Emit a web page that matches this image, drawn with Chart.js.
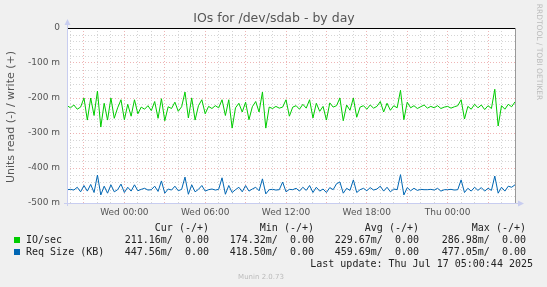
<!DOCTYPE html>
<html>
<head>
<meta charset="utf-8">
<script src="https://cdn.jsdelivr.net/npm/chart.js@4/dist/chart.umd.min.js"></script>
<style>
  html, body { margin: 0; padding: 0; background: #f0f0f0; }
  canvas { display: block; }
</style>
</head>
<body>
<canvas id="grafico" width="547" height="287"></canvas>
<script>
// time axis: hours relative to Wed 00:00, one sample every 15 min
var startHour = -4.25;
var stepHours = 0.25;

// IO/sec (read, shown negative) in milli units
var ioPerSec = [
  -222, -228, -220, -232, -226, -200, -263, -200, -250, -180,
  -283, -215, -263, -200, -258, -228, -205, -262, -218, -252,
  -205, -245, -226, -232, -222, -236, -210, -258, -202, -265,
  -225, -230, -212, -238, -225, -183, -257, -200, -263, -222,
  -205, -245, -224, -230, -222, -228, -205, -250, -205, -286,
  -228, -215, -240, -212, -262, -225, -210, -240, -183, -286,
  -226, -230, -224, -229, -226, -205, -252, -226, -222, -232,
  -218, -229, -205, -257, -215, -238, -224, -263, -214, -226,
  -222, -200, -265, -220, -235, -200, -255, -226, -222, -232,
  -220, -229, -224, -210, -240, -215, -235, -222, -228, -178,
  -262, -212, -228, -222, -230, -225, -220, -229, -224, -228,
  -222, -230, -226, -224, -229, -225, -222, -205, -260, -224,
  -232, -218, -228, -220, -233, -222, -230, -175, -280, -222,
  -232, -218, -225, -211
];

// Req Size (KB) (read, shown negative) in milli units
var reqSizeKB = [
  -462, -461, -463, -455, -468, -450, -466, -447, -470, -420,
  -477, -452, -472, -448, -468, -462, -446, -470, -455, -466,
  -448, -465, -461, -458, -463, -462, -452, -467, -437, -472,
  -460, -463, -452, -465, -461, -426, -475, -448, -468, -461,
  -450, -466, -462, -460, -463, -461, -428, -475, -450, -470,
  -462, -455, -468, -450, -466, -460, -455, -465, -431, -474,
  -462, -461, -463, -462, -440, -468, -461, -462, -458, -466,
  -455, -464, -450, -470, -455, -466, -460, -470, -456, -462,
  -445, -440, -472, -458, -464, -434, -470, -462, -458, -465,
  -456, -463, -460, -452, -466, -455, -468, -460, -462, -419,
  -477, -456, -465, -458, -464, -461, -462, -462, -461, -463,
  -458, -466, -462, -462, -461, -463, -462, -434, -470, -458,
  -466, -455, -464, -456, -466, -458, -464, -423, -472, -455,
  -466, -452, -455, -448
];

var tickHours = [0, 6, 12, 18, 24];
var tickLabels = ['Wed 00:00', 'Wed 06:00', 'Wed 12:00', 'Wed 18:00', 'Thu 00:00'];

var legendNames = ['IO/sec', 'Req Size (KB)'];
var legendColors = ['#00cc00', '#0066b3'];
var legendHeaders = ['Cur (-/+)', 'Min (-/+)', 'Avg (-/+)', 'Max (-/+)'];
var legendValues = [
  ['211.16m/  0.00', '174.32m/  0.00', '229.67m/  0.00', '286.98m/  0.00'],
  ['447.56m/  0.00', '418.50m/  0.00', '459.69m/  0.00', '477.05m/  0.00']
];

function montaPontos(valores) {
  var pontos = [];
  for (var i = 0; i < valores.length; i++) {
    pontos.push({ x: startHour + i * stepHours, y: valores[i] });
  }
  return pontos;
}

var MAJOR = 'rgba(225, 120, 120, 0.55)';
var MINOR = 'rgba(185, 185, 185, 0.6)';

var muninPlugin = {
  id: 'munin',
  beforeDraw: function (chart) {
    var ctx = chart.ctx;
    var a = chart.chartArea;
    ctx.save();
    ctx.fillStyle = '#f0f0f0';
    ctx.fillRect(0, 0, chart.width, chart.height);
    ctx.fillStyle = '#ffffff';
    ctx.fillRect(a.left, a.top, a.right - a.left, a.bottom - a.top);
    ctx.restore();
  },
  afterDraw: function (chart) {
    var ctx = chart.ctx;
    var a = chart.chartArea;
    var y = chart.scales.y;
    ctx.save();

    // linha do zero (topo) e borda direita
    ctx.strokeStyle = '#000000';
    ctx.lineWidth = 1;
    var y0 = Math.round(y.getPixelForValue(0)) + 0.5;
    ctx.beginPath();
    ctx.moveTo(a.left, y0);
    ctx.lineTo(a.right, y0);
    ctx.stroke();
    ctx.strokeStyle = '#999999';
    ctx.beginPath();
    ctx.moveTo(a.right + 0.5, a.top);
    ctx.lineTo(a.right + 0.5, a.bottom);
    ctx.stroke();

    // eixos com setas
    ctx.strokeStyle = '#c8cdf0';
    ctx.fillStyle = '#c8cdf0';
    ctx.beginPath();
    ctx.moveTo(a.left + 0.5, a.bottom + 3);
    ctx.lineTo(a.left + 0.5, a.top - 4);
    ctx.moveTo(a.left - 3, a.bottom + 0.5);
    ctx.lineTo(a.right + 4, a.bottom + 0.5);
    ctx.stroke();
    ctx.beginPath();
    ctx.moveTo(a.left - 2.5, a.top - 3);
    ctx.lineTo(a.left + 3.5, a.top - 3);
    ctx.lineTo(a.left + 0.5, a.top - 9);
    ctx.closePath();
    ctx.fill();
    ctx.beginPath();
    ctx.moveTo(a.right + 3, a.bottom - 2.5);
    ctx.lineTo(a.right + 3, a.bottom + 3.5);
    ctx.lineTo(a.right + 9, a.bottom + 0.5);
    ctx.closePath();
    ctx.fill();

    // titulo
    ctx.fillStyle = '#555555';
    ctx.font = '12.5px "DejaVu Sans"';
    ctx.textAlign = 'center';
    ctx.textBaseline = 'middle';
    ctx.fillText('IOs for /dev/sdab - by day', 274, 19);

    // titulo do eixo vertical
    ctx.save();
    ctx.translate(11, 117);
    ctx.rotate(-Math.PI / 2);
    ctx.font = '11px "DejaVu Sans"';
    ctx.fillText('Units read (-) / write (+)', 0, 0);
    ctx.restore();

    // marca do rrdtool
    ctx.save();
    ctx.translate(539, 52);
    ctx.rotate(Math.PI / 2);
    ctx.fillStyle = '#bbbbbb';
    ctx.font = '7.5px "DejaVu Sans"';
    ctx.fillText('RRDTOOL / TOBI OETIKER', 0, 0);
    ctx.restore();

    // legenda
    ctx.font = '10px "DejaVu Sans Mono"';
    ctx.fillStyle = '#222222';
    ctx.textAlign = 'right';
    var colRight = [209, 314, 419, 526];
    for (var c = 0; c < legendHeaders.length; c++) {
      ctx.fillText(legendHeaders[c], colRight[c], 228);
    }
    for (var r = 0; r < legendNames.length; r++) {
      var ly = 240 + r * 12;
      ctx.fillStyle = legendColors[r];
      ctx.fillRect(14, ly - 3, 6, 6);
      ctx.fillStyle = '#222222';
      ctx.textAlign = 'left';
      ctx.fillText(legendNames[r], 26, ly);
      ctx.textAlign = 'right';
      for (var k = 0; k < legendValues[r].length; k++) {
        ctx.fillText(legendValues[r][k], colRight[k], ly);
      }
    }
    ctx.fillText('Last update: Thu Jul 17 05:00:44 2025', 533, 264);

    ctx.fillStyle = '#bbbbbb';
    ctx.font = '7px "DejaVu Sans"';
    ctx.textAlign = 'center';
    ctx.fillText('Munin 2.0.73', 261, 277);
    ctx.restore();
  }
};

var ctx = document.getElementById('grafico').getContext('2d');
var meuGrafico = new Chart(ctx, {
  type: 'line',
  data: {
    datasets: [{
      label: legendNames[0],
      data: montaPontos(ioPerSec),
      borderColor: legendColors[0],
      borderWidth: 1,
      pointRadius: 0,
      tension: 0,
      fill: false
    }, {
      label: legendNames[1],
      data: montaPontos(reqSizeKB),
      borderColor: legendColors[1],
      borderWidth: 1,
      pointRadius: 0,
      tension: 0,
      fill: false
    }]
  },
  options: {
    responsive: false,
    animation: false,
    devicePixelRatio: 1,
    layout: { padding: { top: 28, right: 32, left: 0, bottom: 0 } },
    plugins: {
      legend: { display: false },
      title: { display: false },
      tooltip: { enabled: false }
    },
    scales: {
      x: {
        type: 'linear',
        min: -4.26,
        max: 29,
        afterFit: function (scale) { scale.height = 84; },
        afterBuildTicks: function (scale) {
          var t = [];
          for (var h = -4; h <= 28; h++) t.push({ value: h });
          scale.ticks = t;
        },
        border: { display: false, dash: [1, 2] },
        grid: {
          drawTicks: false,
          color: function (c) {
            var v = c.tick ? c.tick.value : 0;
            return ((v % 3) + 3) % 3 === 0 ? MAJOR : MINOR;
          }
        },
        ticks: {
          autoSkip: false,
          maxRotation: 0,
          padding: 4,
          color: '#555555',
          font: { family: 'DejaVu Sans', size: 9 },
          callback: function (value) {
            var idx = tickHours.indexOf(value);
            return idx >= 0 ? tickLabels[idx] : '';
          }
        }
      },
      y: {
        min: -500,
        max: 0,
        afterFit: function (scale) { scale.width = 67; },
        border: { display: false, dash: [1, 2] },
        grid: {
          drawTicks: false,
          color: function (c) {
            var v = c.tick ? c.tick.value : 0;
            return v % 100 === 0 ? MAJOR : MINOR;
          }
        },
        ticks: {
          stepSize: 20,
          autoSkip: false,
          padding: 7,
          color: '#555555',
          font: { family: 'DejaVu Sans', size: 9 },
          callback: function (value) {
            if (value % 100 !== 0) return '';
            return value === 0 ? '0' : value + ' m';
          }
        }
      }
    }
  },
  plugins: [muninPlugin]
});
</script>
</body>
</html>
